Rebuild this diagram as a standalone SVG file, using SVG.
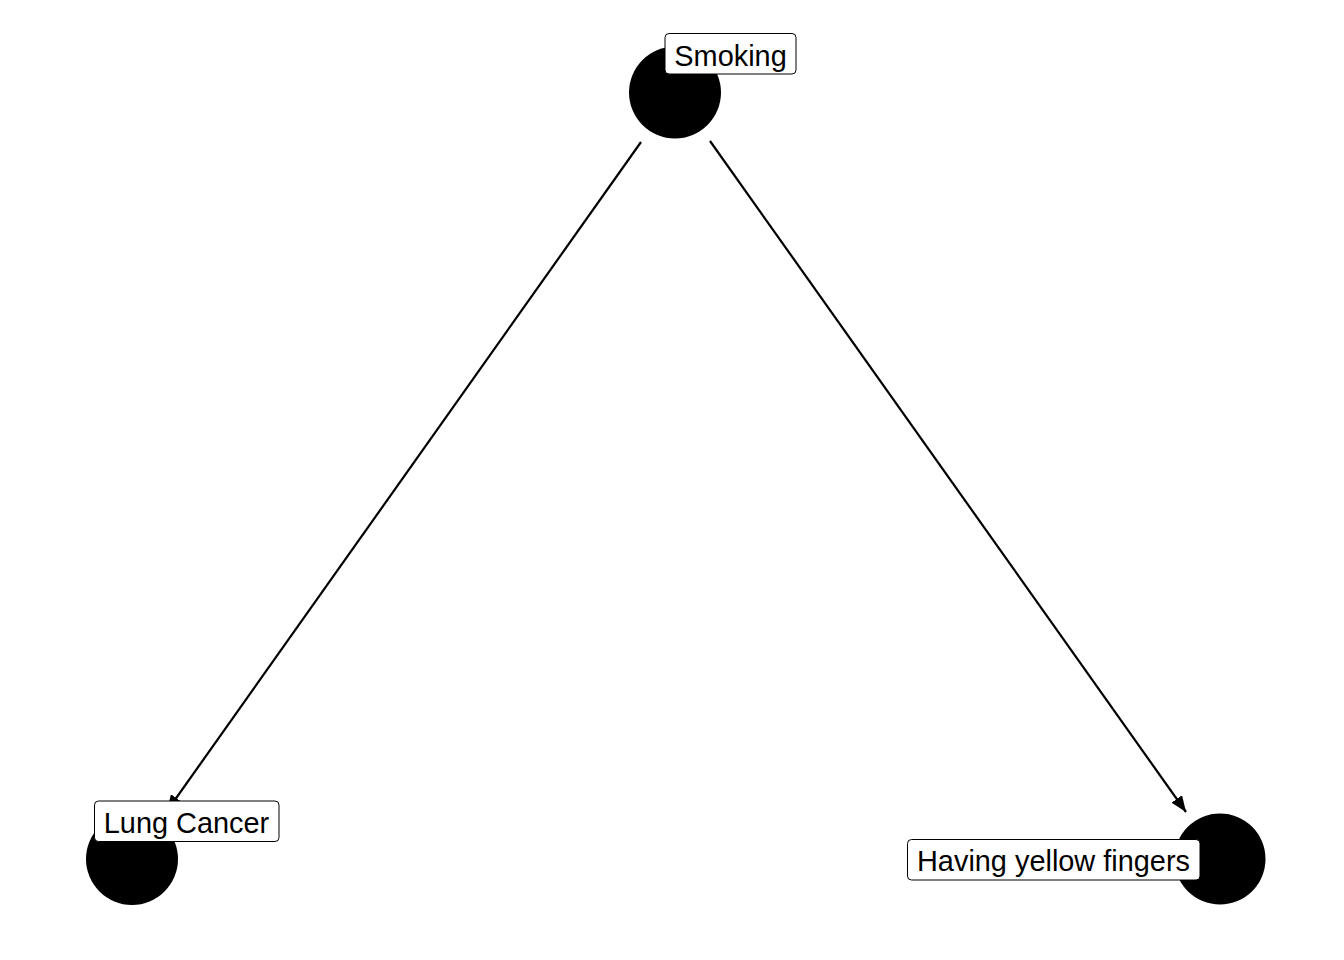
<svg xmlns="http://www.w3.org/2000/svg" width="1344" height="960" viewBox="0 0 1344 960">
<style>
.node{fill:#000;}
.edge{stroke:#000;stroke-width:2.2;fill:none;}
.lbl{fill:#fff;stroke:#000;stroke-width:1;}
.txt{font-family:"Liberation Sans",Arial,sans-serif;font-size:28.9px;fill:#000;text-anchor:middle;}
</style>
<defs>
<marker id="ah" viewBox="0 0 16 13" refX="16" refY="6.5" markerWidth="16" markerHeight="13" orient="auto" markerUnits="userSpaceOnUse">
<path d="M0,0 L16,6.5 L0,13 Z" fill="#000"/>
</marker>
</defs>
<rect width="1344" height="960" fill="#fff"/>
<g id="nodes-circles">
<circle id="c-smoking" class="node" cx="675" cy="92.5" r="46"/>
<circle id="c-lung" class="node" cx="132" cy="859" r="46"/>
<circle id="c-yellow" class="node" cx="1220" cy="859" r="45.5"/>
</g>
<g id="connectors">
<line class="edge" x1="641" y1="142" x2="167" y2="811" marker-end="url(#ah)"/>
<line class="edge" x1="710" y1="141" x2="1186" y2="812" marker-end="url(#ah)"/>
</g>
<g id="node-smoking">
<rect class="lbl" x="665" y="33.5" width="131" height="40.5" rx="4"/>
<text class="txt" x="730.5" y="65.5">Smoking</text>
</g>
<g id="node-lung">
<rect class="lbl" x="94.5" y="801" width="184.5" height="40.5" rx="4"/>
<text class="txt" x="186.5" y="833">Lung Cancer</text>
</g>
<g id="node-yellow">
<rect class="lbl" x="907.5" y="839.5" width="292.5" height="40.5" rx="4"/>
<text class="txt" x="1053.5" y="871">Having yellow fingers</text>
</g>
</svg>
